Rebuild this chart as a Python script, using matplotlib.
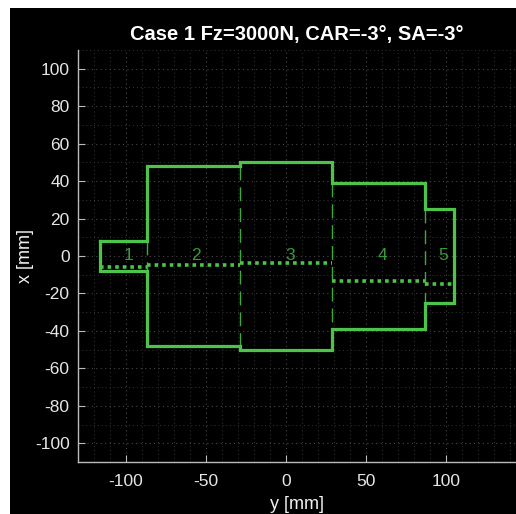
import matplotlib
matplotlib.use("Agg")
import matplotlib.pyplot as plt
from matplotlib.patches import Rectangle
import numpy as np

plt.rcParams['font.family'] = ['Liberation Sans', 'DejaVu Sans']
plt.rcParams['axes.unicode_minus'] = False

# Data
seg_labels = ["1", "2", "3", "4", "5"]
seg_edges = [-116, -87, -29, 29, 87, 105]      # y [mm] boundaries
half_width = [8, 48, 50, 39, 25]               # x half-extent [mm]
dotted_x = [-6, -4.8, -3.5, -13.3, -15]        # dotted line level per segment
label_y = [-98.5, -56, 2.5, 60.5, 98]
label_x = [0, 0, 0, 0, 0]
xticks = [-100, -50, 0, 50, 100]
yticks = [-100, -80, -60, -40, -20, 0, 20, 40, 60, 80, 100]

green = "#4cc44a"
label_green = "#3a9a3a"

fig = plt.figure(figsize=(5.16, 5.14), dpi=100, facecolor="white")
fig.patches.append(Rectangle((10 / 516, 0), 1 - 10 / 516, 1 - 8 / 514,
                             transform=fig.transFigure, facecolor="black",
                             edgecolor="none", zorder=-10))

ax = fig.add_axes([78 / 516, 52 / 514, (516 - 78) / 516, (462 - 50) / 514])
ax.set_facecolor("black")

# outline
ox, oy = [], []
for i in range(len(half_width)):
    ox += [seg_edges[i], seg_edges[i + 1]]
    oy += [half_width[i], half_width[i]]
bx, by = [], []
for i in reversed(range(len(half_width))):
    bx += [seg_edges[i + 1], seg_edges[i]]
    by += [-half_width[i], -half_width[i]]
px = ox + bx + [ox[0]]
py = oy + by + [oy[0]]
ax.plot(px, py, color=green, lw=2.3, solid_joinstyle="miter", zorder=3)

# internal dashed boundaries
for i in range(1, len(seg_edges) - 1):
    h = min(half_width[i - 1], half_width[i])
    ax.plot([seg_edges[i], seg_edges[i]], [h, -h], color="#3fa83d", lw=1.0,
            ls=(0, (10, 5)), zorder=2)

# dotted lines
for i in range(len(dotted_x)):
    ax.plot([seg_edges[i], seg_edges[i + 1]], [dotted_x[i], dotted_x[i]],
            color=green, lw=2.6, ls=(0, (1, 1.1)), zorder=2)

for s, yy, xx in zip(seg_labels, label_y, label_x):
    ax.text(yy, xx, s, color=label_green, fontsize=12.5, ha="center", va="center", zorder=4)

ax.set_xlim(-130, 143.75)
ax.set_ylim(-110, 110)
ax.set_xticks(xticks)
ax.set_yticks(yticks)
ax.set_xticks(np.arange(-130, 141, 10), minor=True)
ax.set_yticks(np.arange(-110, 111, 10), minor=True)
ax.grid(True, which="major", color="#484848", ls=(0, (1, 3)), lw=0.8)
ax.grid(True, which="minor", color="#363636", ls=(0, (1, 3)), lw=0.7)
ax.set_axisbelow(True)

for sp in ["top", "right"]:
    ax.spines[sp].set_visible(False)
for sp in ["left", "bottom"]:
    ax.spines[sp].set_color("#bbbbbb")
    ax.spines[sp].set_linewidth(1.0)
ax.tick_params(which="major", direction="in", length=5, color="#bbbbbb",
               labelcolor="#e6e6e6", labelsize=12.5)
ax.tick_params(axis="x", which="major", pad=9)
ax.tick_params(axis="y", which="major", pad=6)
ax.tick_params(which="minor", length=0)

ax.set_xlabel("y [mm]", color="#f0f0f0", fontsize=13, labelpad=5)
ax.set_ylabel("x [mm]", color="#f0f0f0", fontsize=13, labelpad=1)
ax.set_title("Case 1 Fz=3000N, CAR=-3°, SA=-3°", color="white", fontsize=14.5,
             fontweight="bold", pad=7)

fig.savefig("out.png", dpi=100, facecolor=fig.get_facecolor())
